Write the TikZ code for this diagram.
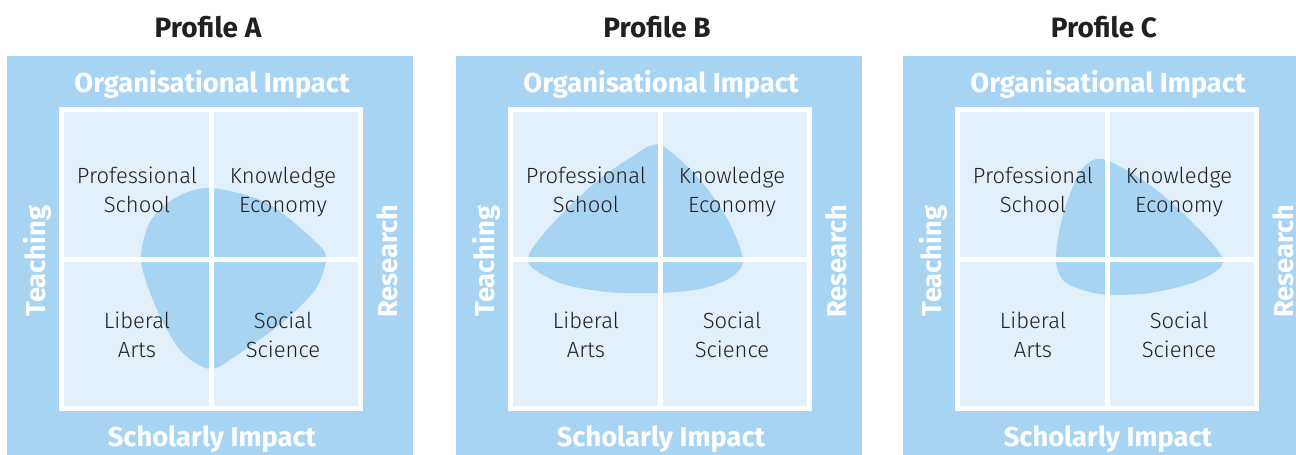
\documentclass[tikz,border=0pt]{standalone}
\usepackage{fontspec}
\setmainfont{Fira Sans}
\newfontfamily\lightfont{Fira Sans Light}
\usepackage{tikz}

\definecolor{panelblue}{RGB}{166,212,242}
\definecolor{cellblue}{RGB}{226,240,251}
\definecolor{inkgray}{RGB}{35,31,32}

\begin{document}
\begin{tikzpicture}[x=1pt,y=-1pt,
  title/.style={font=\fontsize{28}{32}\selectfont\bfseries, text=inkgray, anchor=base},
  axis/.style={font=\fontsize{27.3}{32}\selectfont\bfseries, text=white, anchor=base},
  cell/.style={font=\fontsize{22}{29}\lightfont, text=inkgray, align=center, anchor=base},
  divider/.style={white, line width=5pt}]
\useasboundingbox (0,0) rectangle (1296,455);
\foreach \x in {7,456,903} {
  \fill[panelblue] (\x,56) rectangle ++(406,406);
  \fill[cellblue] (\x+57,112) rectangle ++(294,294);
}
\fill[panelblue] plot[smooth cycle] coordinates {(210,188) (267,203) (317,243) (326,260) (315,290) (283,322) (240,353) (210,369) (180,350) (155,305) (141,260) (150,222) (175,198)};
\fill[panelblue] plot[smooth cycle] coordinates {(660,145) (700,180) (728,220) (743,260) (730,278) (700,289) (657,293) (607,292) (560,283) (528,262) (545,232) (590,187) (630,158)};
\fill[panelblue] plot[smooth cycle] coordinates {(1102,159) (1147,183) (1190,220) (1223,260) (1200,280) (1150,293) (1100,294) (1065,282) (1056,258) (1063,215) (1080,172)};
\foreach \x/\name in {7/A,456/B,903/C} {
  \draw[divider] (\x+54.5,109.5) rectangle (\x+353.5,408.5);
  \draw[divider] (\x+204,112) -- (\x+204,406);
  \draw[divider] (\x+57,259.5) -- (\x+351,259.5);
  \node[title] (title-\name) at (\x+201,37) {Profile \name};
  \node[axis] (org-\name) at (\x+205,92) {Organisational Impact};
  \node[axis] (sch-\name) at (\x+205,446) {Scholarly Impact};
  \node[axis, rotate=90] (teach-\name) at (\x+38,261) {Teaching};
  \node[axis, rotate=90] (res-\name) at (\x+390,261) {Research};
  \node[cell] (ps-\name) at (\x+130,212.5) {Professional\\School};
  \node[cell] (ke-\name) at (\x+276,212.5) {Knowledge\\Economy};
  \node[cell] (la-\name) at (\x+130,357.5) {Liberal\\Arts};
  \node[cell] (ss-\name) at (\x+276,357.5) {Social\\Science};
}
\end{tikzpicture}
\end{document}
